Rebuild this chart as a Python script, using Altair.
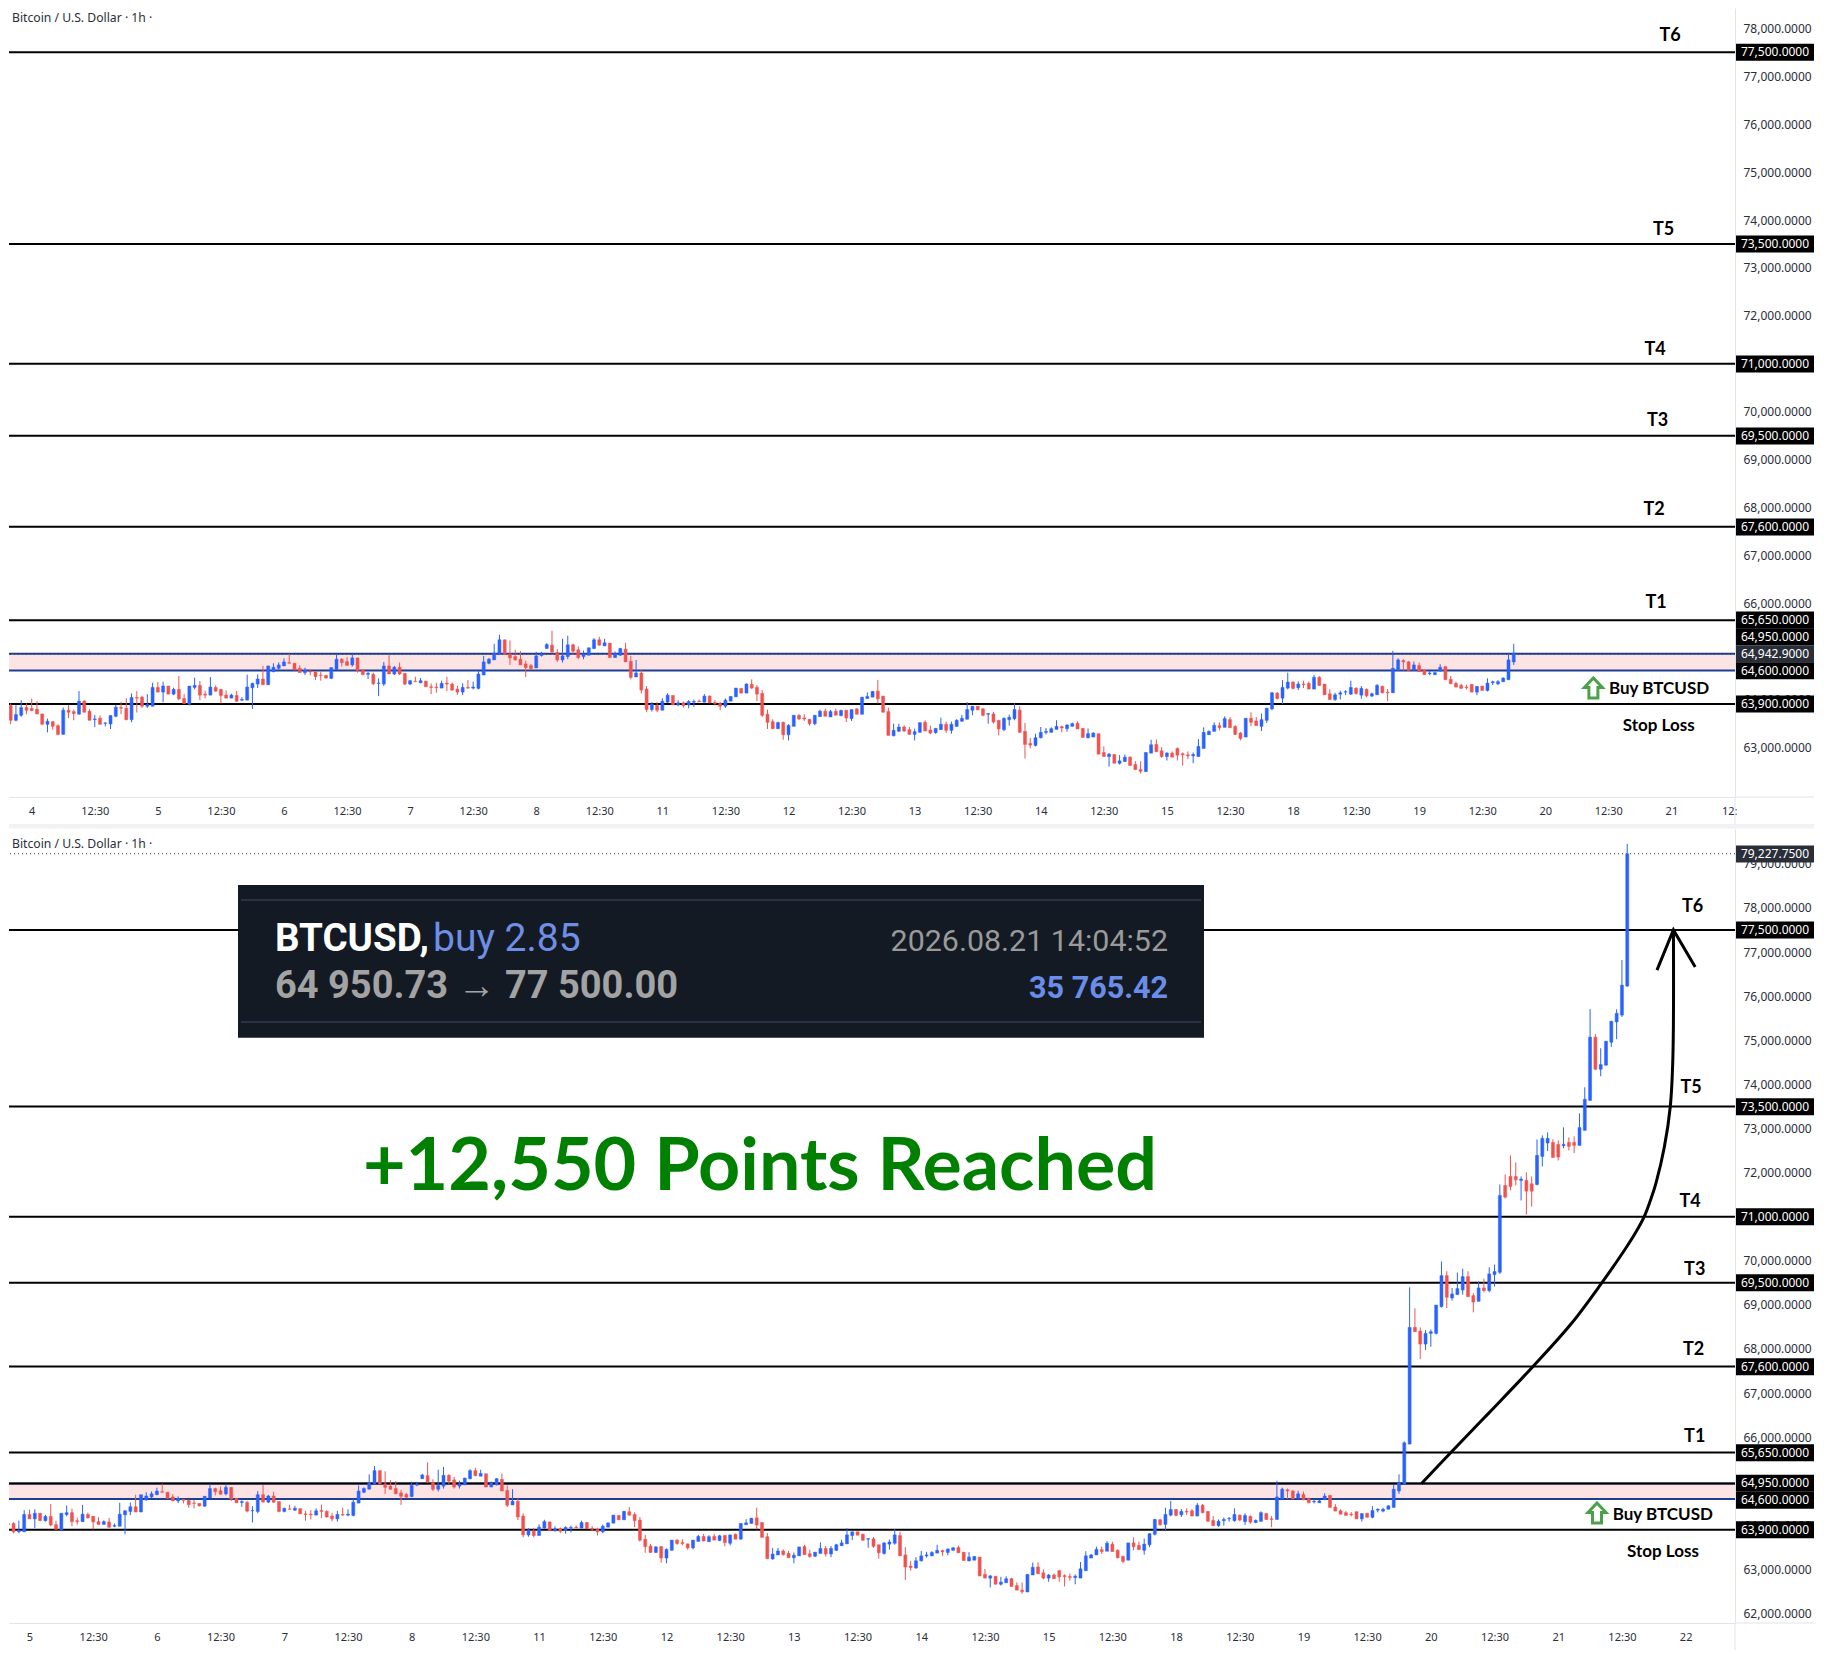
import altair as alt
import pandas as pd

# ---------- candle values (USD) ----------
DIRECTION = "".join([
    "BRBBRRRRBR", "RBRRBRRBRB", "BBRRBRRBBR", "BRBRRBBRRB", "RRRBRBBBBR",
    "BBBBRRRBRR", "RRBBRRBRRB", "RBBRBRRBRB", "RRRBRRRBRB", "BBBBBRRRRR",
    "RBBBRRBBRR", "BBBRBRBBRR", "BRRBRBBRBR", "BBRBRRRBBB", "RBRRRRRBRB",
    "BRRRBBRBRB", "RBRBBBRRRB", "BRRBBRRBBR", "BBBBBRRBRR", "BBBRRRBBBB",
    "BRBBRRBBRR", "BRBBRRRBBR", "RBRRRRBBBB", "BRBRRRBRRB", "BBRBBRBRRB",
    "RRRBBBBRBR", "BBRRBBRRBR", "RBBBRRRRRR", "BRBBBBBBBB", "RRBBBBRBBB",
    "RRBRBBBRRR", "BRRBBBRRBR", "RBBBRBBBBB", "B",
])

HIGH = [
    63854,63910,63875,63980,63910,64015,63959,63693,63595,63532,
    63476,63826,63875,63784,64169,63980,63791,63672,63658,63518,
    63665,63882,63945,64022,64120,64169,64071,64106,64344,64358,
    64365,64274,64239,64484,64106,64274,64449,64379,64176,64463,
    64288,64204,64183,64113,64169,64043,64512,64344,64519,64694,
    64694,64750,64771,64855,64946,64750,64708,64659,64596,64582,
    64575,64498,64659,64939,64855,64883,64939,64862,64610,64568,
    64554,64435,64778,64918,64694,64764,64540,64400,64470,64442,
    64379,64330,64344,64386,64470,64344,64281,64330,64400,64365,
    64596,64904,64862,65156,65345,65240,65226,65030,65002,64806,
    64736,64988,64988,65170,65429,65044,65261,65324,65156,65100,
    65016,65079,65275,65303,65261,65170,64995,65072,65177,64904,
    64820,64610,64274,63938,63938,64022,64127,64078,63980,63952,
    63980,63994,63994,64106,64078,63980,63945,64015,64057,64232,
    64225,64330,64414,64295,64190,63784,63581,63532,63532,63476,
    63665,63686,63686,63581,63665,63784,63805,63777,63805,63784,
    63770,63784,63812,64043,64141,64169,64400,64064,63826,63490,
    63490,63455,63420,63385,63511,63560,63448,63392,63616,63532,
    63532,63581,63672,63938,63854,63854,63812,63700,63735,63560,
    63616,63679,63917,63854,63504,63196,63280,63420,63399,63413,
    63560,63448,63476,63511,63539,63392,63392,63308,63280,63014,
    62874,62846,62832,62846,62811,62706,62706,62888,63154,63161,
    63000,62895,62909,62993,62888,62909,62888,63168,63413,63350,
    63518,63518,63644,63630,63455,63315,63602,63728,63630,63700,
    63819,64148,64148,64400,64554,64372,64372,64386,64365,64505,
    64484,64316,64211,64134,64176,64190,64386,64246,64274,64225,
    64134,64316,64281,64211,65009,64855,64834,64799,64785,64764,
    64610,64596,64575,64729,64680,64484,64365,64323,64302,64309,
    64274,64274,64435,64386,64400,64456,64925,65156,
    65903,69396,68920,68489,68428,68443,68995,69982,69761,69383,69731,69822,
    69761,69262,69534,69595,69852,69913,71730,71957,72389,72230,
    71912,72003,71912,72752,72843,72911,72752,72730,73025,72798,
    72821,73343,73934,75706,75138,74819,74978,75443,75700,76820,79453,
]
BODY_TOP = [
    63854,63868,63679,63826,63826,63805,63791,63693,63539,63532,
    63448,63770,63770,63742,63959,63959,63749,63588,63602,63504,
    63658,63833,63826,63812,64036,64036,64043,63889,64246,64246,
    64274,64274,64204,64204,64015,64274,64288,64288,64106,64253,
    64246,64204,64085,64085,64078,63994,64253,64330,64421,64421,
    64694,64666,64715,64778,64764,64750,64645,64610,64589,64568,
    64505,64498,64659,64834,64834,64785,64862,64862,64610,64540,
    64519,64337,64694,64694,64666,64666,64540,64386,64372,64386,
    64379,64260,64253,64330,64337,64316,64211,64246,64246,64253,
    64526,64778,64834,64960,65240,65240,64939,64890,64834,64736,
    64701,64904,64939,65142,65128,64974,64904,65135,65135,65030,
    64939,65072,65240,65240,65177,65170,64960,65058,65044,64792,
    64547,64547,64211,63896,63868,63959,64085,64078,63924,63924,
    63952,63952,63959,64064,64064,63931,63910,63980,64057,64232,
    64225,64316,64309,64246,64120,63686,63532,63511,63518,63455,
    63665,63665,63609,63581,63665,63749,63749,63742,63749,63763,
    63770,63784,63798,64043,64057,64162,64169,64064,63742,63350,
    63420,63420,63364,63322,63511,63518,63357,63392,63476,63476,
    63476,63560,63602,63784,63854,63854,63798,63700,63693,63560,
    63602,63623,63784,63770,63329,63077,63196,63308,63329,63385,
    63434,63427,63462,63490,63497,63392,63280,63294,63280,62888,
    62853,62846,62713,62790,62790,62636,62531,62888,63049,63056,
    62923,62874,62874,62972,62860,62839,62846,63014,63308,63329,
    63455,63448,63595,63574,63434,63294,63602,63602,63546,63574,
    63812,64134,64127,64246,64358,64358,64316,64316,64330,64456,
    64456,64316,64113,64092,64134,64155,64246,64232,64225,64204,
    64113,64288,64267,64148,64645,64820,64806,64778,64715,64701,
    64610,64547,64554,64666,64680,64414,64330,64288,64253,64309,
    64267,64274,64337,64365,64365,64442,64820,64960,
    65873,68489,68489,68406,68353,68390,68995,69663,69663,69247,69368,69640,
    69640,69209,69383,69383,69701,69754,71480,71708,71912,71912,
    71851,71821,71745,72389,72775,72775,72684,72639,72639,72684,
    72684,73020,73661,75070,75070,74448,74978,75428,75610,76250,79227.75,
]
BODY_BOTTOM = [
    63224,63560,63560,63665,63770,63763,63693,63476,63476,63434,
    63266,63266,63728,63700,63686,63728,63560,63574,63476,63497,
    63483,63644,63812,63574,63574,64022,63854,63854,63854,64148,
    64148,64106,64106,64008,63910,63896,64246,64085,64085,64085,
    64169,64078,64022,64022,63959,63980,63980,64239,64316,64302,
    64302,64575,64645,64694,64750,64610,64554,64554,64568,64470,
    64498,64442,64435,64624,64764,64708,64715,64596,64512,64519,
    64323,64330,64316,64526,64526,64526,64316,64316,64365,64344,
    64260,64246,64239,64232,64316,64190,64148,64148,64232,64232,
    64225,64505,64750,64820,64939,64939,64862,64820,64715,64659,
    64638,64652,64911,65058,64988,64820,64820,64890,65002,64869,
    64890,64918,65058,65128,65114,64869,64869,64918,64778,64456,
    64463,64190,63784,63784,63770,63770,63938,63882,63882,63868,
    63882,63938,63945,63938,63924,63910,63854,63854,63959,64050,
    64127,64127,64232,64106,63665,63518,63385,63385,63259,63259,
    63434,63588,63588,63490,63490,63637,63644,63630,63665,63658,
    63609,63595,63686,63686,64015,64043,64008,63728,63245,63238,
    63329,63336,63266,63266,63308,63336,63294,63301,63364,63350,
    63350,63434,63539,63581,63770,63777,63665,63686,63525,63378,
    63364,63574,63595,63308,63056,63042,63035,63196,63308,63308,
    63371,63399,63385,63434,63378,63203,63196,63210,62853,62804,
    62804,62664,62664,62699,62615,62531,62496,62489,62874,62902,
    62804,62804,62790,62832,62839,62818,62818,62804,62972,63259,
    63329,63406,63413,63406,63266,63182,63210,63518,63448,63434,
    63560,63798,64015,64022,64232,64225,64239,64302,64211,64211,
    64288,64092,63994,63994,64106,64148,64106,64120,64085,64071,
    64064,64092,64134,64134,64134,64596,64778,64596,64610,64575,
    64512,64533,64512,64589,64407,64323,64253,64225,64239,64148,
    64148,64183,64183,64344,64323,64365,64407,64778,
    64936,65843,68390,68111,68111,68353,68353,68959,69171,69156,69232,69338,
    69186,69065,69080,69322,69322,69686,69739,71443,71685,71836,
    71821,71578,71578,71730,72366,72669,72343,72351,72608,72593,
    72616,72616,72957,73638,74343,74343,74433,74955,75415,75570,76228,
]
LOW = [
    63035,63476,63539,63630,63686,63749,63686,63476,63308,63364,
    63245,63266,63602,63560,63686,63728,63560,63420,63476,63434,
    63378,63623,63686,63560,63518,63721,63819,63819,63854,64148,
    63938,64106,64085,63980,63910,63868,64204,63980,64015,64085,
    64155,63910,64022,64022,63945,63959,63980,63798,64232,64302,
    64302,64561,64610,64694,64750,64610,64554,64505,64498,64400,
    64386,64428,64421,64624,64680,64694,64680,64554,64512,64421,
    64295,64064,64274,64526,64505,64505,64295,64295,64365,64330,
    64260,64106,64134,64232,64169,64176,64092,64085,64218,64204,
    64204,64505,64729,64820,64939,64932,64715,64806,64715,64463,
    64610,64652,64890,65058,64960,64778,64764,64834,64932,64834,
    64834,64918,65044,65114,65114,64869,64869,64904,64778,64414,
    64463,64120,63728,63742,63728,63770,63924,63882,63854,63826,
    63812,63840,63945,63938,63924,63868,63770,63819,63959,64050,
    64127,64127,64218,63959,63630,63378,63378,63378,63154,63140,
    63434,63560,63546,63448,63455,63637,63644,63630,63665,63644,
    63525,63546,63686,63686,64015,64043,63910,63728,63245,63224,
    63329,63315,63266,63140,63308,63336,63266,63280,63364,63294,
    63280,63420,63539,63581,63665,63777,63644,63490,63490,63245,
    63336,63448,63560,63308,62762,62972,63014,63182,63266,63308,
    63371,63308,63322,63434,63378,63203,63182,63210,62853,62804,
    62594,62664,62636,62699,62615,62531,62447,62489,62874,62902,
    62776,62720,62790,62720,62615,62748,62664,62804,62972,63259,
    63329,63350,63413,63406,63252,63140,63210,63434,63448,63336,
    63504,63770,63994,63896,64204,64204,64190,64232,64211,64211,
    64274,64092,63994,63966,63994,64085,64085,64092,64008,64036,
    64050,64092,64120,63959,64134,64596,64596,64596,64589,64575,
    64512,64498,64512,64568,64407,64323,64253,64225,64204,64148,
    64085,64183,64162,64295,64295,64365,64407,64715,
    64936,65843,68390,67771,67975,68050,68330,68940,68929,69095,69232,69232,
    69186,68830,69080,69285,69285,69413,69700,71412,71594,71708,
    71367,71048,71230,71708,72139,72487,72343,72275,72548,72502,
    72442,72616,72957,73623,74320,74183,74433,74850,75025,75530,76213,
]

# ---------- levels, ticks, labels ----------
LEVELS = [63900, 65650, 67600, 69500, 71000, 73500, 77500]
ZONE_LOW, ZONE_HIGH = 64600, 64950
TITLE = "Bitcoin / U.S. Dollar \u00b7 1h \u00b7"

P1_TICKS = list(range(63000, 79000, 1000))
P2_TICKS = list(range(62000, 80000, 1000))
P1_DAYS = ["4", "5", "6", "7", "8", "11", "12", "13", "14", "15", "18", "19", "20", "21"]
P2_DAYS = ["5", "6", "7", "8", "11", "12", "13", "14", "15", "18", "19", "20", "21", "22"]

ARROW_X = [291.2, 296.5, 304.0, 312.2, 319.4, 325.1, 329.5, 331.5, 333.2, 334.5, 335.4, 337.0, 338.1, 338.6, 338.7]
ARROW_P = [64945, 65620, 66557, 67596, 68565, 69481, 70244, 70622, 71000, 71416, 71756, 72586, 73486, 74622, 77500]
HEAD_X = [335.6, 338.7, 342.8]
HEAD_P = [76591, 77500, 76659]

# ---------- layout ----------
BLUE, RED = "#2962ff", "#ef5350"
ZONE_FILL, ZONE_LINE = "#fde4e4", "#1c3f94"
BOX_BLACK, BOX_GREY = "#000000", "#2a2e39"
UI_FONT, LABEL_FONT, BOX_FONT = "Noto Sans", "Lato", "Roboto"
EDGE = "#e0e3eb"
PX_LEFT, PX_RIGHT, PX_WHITE_END = 8, 1734, 1813
W = PX_RIGHT - PX_LEFT

df = pd.DataFrame({
    "i": range(len(HIGH)), "high": HIGH, "top": BODY_TOP, "bottom": BODY_BOTTOM, "low": LOW,
    "dir": ["up" if c == "B" else "down" for c in DIRECTION],
})


class Panel:
    def __init__(self, top, bottom, p_top, p_bottom, i_left, i_right):
        self.top, self.bottom = top, bottom
        self.h = bottom - top
        self.p_top, self.p_bottom = p_top, p_bottom
        self.i_left, self.i_right = i_left, i_right

    def ix(self, px):
        return self.i_left + (px - PX_LEFT) / W * (self.i_right - self.i_left)

    def pr(self, py):
        return self.p_top - (py - self.top) / self.h * (self.p_top - self.p_bottom)


def text_layer(p, xs, ys, rows, **mark):
    t = pd.DataFrame([{"t": r[0], "x": p.ix(r[1]), "y": p.pr(r[2])} for r in rows])
    return alt.Chart(t).mark_text(clip=False, **mark).encode(x=xs("x"), y=ys("y"), text="t:N")


def panel(p, candles, ticks, day_labels, first_idx, labels, boxes, dotted, extras, label_band, clipped_tick):
    seq = []
    for d in day_labels:
        seq += [d, "12:30"]
    seq = seq[:-1]
    vals = [first_idx + 12 * k for k in range(len(seq))]
    if clipped_tick:
        seq.append("12:")
        vals.append(clipped_tick)
    lab = "[" + ",".join(f"'{s}'" for s in seq) + "]"
    xaxis = alt.Axis(values=vals, labelExpr=f"{lab}[round((datum.value-{first_idx})/12)]",
                     grid=False, ticks=False, domainColor=EDGE, labelFont=UI_FONT,
                     labelFontSize=11, labelColor="#2a2e39", labelPadding=8, title=None,
                     labelOverlap=False, labelFlush=False)
    yaxis = alt.Axis(values=ticks, format=",.4f", orient="right", grid=False, ticks=False,
                     domainColor=EDGE, labelFont=UI_FONT, labelFontSize=12,
                     labelColor="#2a2e39", labelPadding=8, title=None, labelOverlap=False)
    xscale = alt.Scale(domain=[p.i_left, p.i_right], nice=False, zero=False, padding=0)
    yscale = alt.Scale(domain=[p.p_bottom, p.p_top], nice=False, zero=False)

    def xs(f):
        return alt.X(f"{f}:Q", scale=xscale, axis=xaxis, title=None)

    def ys(f):
        return alt.Y(f"{f}:Q", scale=yscale, axis=yaxis, title=None)

    colour = alt.Color("dir:N", scale=alt.Scale(domain=["up", "down"], range=[BLUE, RED]), legend=None)
    stroke = alt.Stroke("dir:N", scale=alt.Scale(domain=["up", "down"], range=[BLUE, RED]), legend=None)

    zone = pd.DataFrame({"a": [ZONE_LOW], "b": [ZONE_HIGH]})
    edges_v = pd.DataFrame({"x": [p.i_right], "y0": [p.p_bottom], "y1": [p.pr(p.bottom + label_band)]})
    edges_h = pd.DataFrame({"x0": [p.i_right], "x1": [p.ix(PX_WHITE_END)], "y": [p.p_bottom]})
    layers = [
        alt.Chart(zone).mark_rect(color=ZONE_FILL).encode(y=ys("a"), y2="b:Q"),
        alt.Chart(pd.DataFrame({"p": [ZONE_LOW, ZONE_HIGH]})).mark_rule(color=ZONE_LINE, strokeWidth=2).encode(y=ys("p")),
        alt.Chart(pd.DataFrame({"p": LEVELS + extras})).mark_rule(color="#000000", strokeWidth=2).encode(y=ys("p")),
        alt.Chart(pd.DataFrame({"p": [dotted]})).mark_rule(color="#333333", strokeWidth=1, strokeDash=[1, 3]).encode(y=ys("p")),
        alt.Chart(edges_v).mark_rule(color=EDGE, strokeWidth=1, clip=False).encode(x=xs("x"), y=ys("y0"), y2="y1:Q"),
        alt.Chart(edges_h).mark_rule(color=EDGE, strokeWidth=1, clip=False).encode(x=xs("x0"), x2="x1:Q", y=ys("y")),
        alt.Chart(candles).mark_rule(strokeWidth=1, clip=True).encode(x=xs("i"), y=ys("high"), y2="low:Q", color=colour),
        alt.Chart(candles).mark_bar(size=3, strokeWidth=0.5, clip=True).encode(
            x=xs("i"), y=ys("top"), y2="bottom:Q", color=colour, stroke=stroke),
        text_layer(p, xs, ys, [(TITLE, 11, labels["title_y"])], align="left", baseline="middle",
                   font=UI_FONT, fontSize=12.2, color="#2a2e39"),
        text_layer(p, xs, ys, labels["t"], align="center", baseline="middle", font=LABEL_FONT,
                   fontWeight="bold", fontSize=18, color="#000000"),
        text_layer(p, xs, ys, labels["side"], align="left", baseline="middle", font=LABEL_FONT,
                   fontWeight="bold", fontSize=17, color="#000000"),
    ]
    ax, ay = labels["buy_arrow"]
    shape = "M0,-1 L0.9,-0.05 L0.45,-0.05 L0.45,1 L-0.45,1 L-0.45,-0.05 L-0.9,-0.05 Z"
    layers.append(
        alt.Chart(pd.DataFrame({"x": [p.ix(ax)], "y": [p.pr(ay)]})).mark_point(
            shape=shape, size=400, stroke="#007a00", strokeWidth=3, filled=False, clip=False
        ).encode(x=xs("x"), y=ys("y"))
    )
    rows = []
    for txt, py, col in boxes:
        rows.append({"t": txt, "c": col, "x0": p.ix(PX_RIGHT + 1), "x1": p.ix(PX_WHITE_END),
                     "xm": p.ix(PX_RIGHT + 40), "y0": p.pr(py - 8.5), "y1": p.pr(py + 8.5), "ym": p.pr(py)})
    box = pd.DataFrame(rows)
    layers.append(alt.Chart(box).mark_rect(clip=False).encode(
        x=xs("x0"), x2="x1:Q", y=ys("y0"), y2="y1:Q",
        fill=alt.Fill("c:N", scale=None)))
    layers.append(alt.Chart(box).mark_text(clip=False, font=UI_FONT, fontSize=12, color="#ffffff", baseline="middle").encode(
        x=xs("xm"), y=ys("ym"), text="t:N"))
    return layers, xs, ys


# ---------- panel 1 ----------
p1 = Panel(8, 797, 78425, 61959, 0.68, 329.1)
p1_labels = {
    "t": [("T6", 1669, 36), ("T5", 1662.5, 230), ("T4", 1654, 350), ("T3", 1656.5, 421),
          ("T2", 1653, 510), ("T1", 1655, 603)],
    "side": [("Buy BTCUSD", 1607.9, 689), ("Stop Loss", 1621.8, 726)],
    "buy_arrow": (1592.4, 688),
    "title_y": 18,
}
p1_boxes = [
    ("77,500.0000", 52.3, BOX_BLACK), ("73,500.0000", 244, BOX_BLACK), ("71,000.0000", 364, BOX_BLACK),
    ("69,500.0000", 436, BOX_BLACK), ("67,600.0000", 527, BOX_BLACK), ("65,650.0000", 620, BOX_BLACK),
    ("64,950.0000", 636.7, BOX_BLACK), ("64,942.9000", 653.7, BOX_GREY), ("64,600.0000", 670.7, BOX_BLACK),
    ("63,900.0000", 704, BOX_BLACK),
]
l1, xs1, ys1 = panel(p1, df.iloc[:288], P1_TICKS, P1_DAYS, 5, p1_labels, p1_boxes, 64942.9, [], 27, 328)
chart1 = alt.layer(*l1).properties(width=W, height=p1.h)

# ---------- panel 2 ----------
p2 = Panel(829, 1623, 79790, 61786, 25.14, 350.3)
p2_labels = {
    "t": [("T6", 1691.5, 906.5), ("T5", 1690, 1088), ("T4", 1689, 1202), ("T3", 1693.7, 1269.5),
          ("T2", 1692.6, 1349.5), ("T1", 1693.7, 1437)],
    "side": [("Buy BTCUSD", 1611.7, 1514.5), ("Stop Loss", 1626, 1552)],
    "buy_arrow": (1596, 1513),
    "title_y": 844,
}
p2_boxes = [
    ("79,227.7500", 854, BOX_GREY), ("77,500.0000", 930, BOX_BLACK), ("73,500.0000", 1106.7, BOX_BLACK),
    ("71,000.0000", 1216.7, BOX_BLACK), ("69,500.0000", 1282.7, BOX_BLACK), ("67,600.0000", 1366.7, BOX_BLACK),
    ("65,650.0000", 1452.7, BOX_BLACK), ("64,950.0000", 1483.3, BOX_BLACK), ("64,600.0000", 1500.3, BOX_BLACK),
    ("63,900.0000", 1529.7, BOX_BLACK),
]
l2, xs2, ys2 = panel(p2, df.iloc[25:], P2_TICKS, P2_DAYS, 29, p2_labels, p2_boxes, 79227.75, [ZONE_HIGH], 27, None)

arrow = pd.DataFrame({"x": ARROW_X, "y": ARROW_P, "n": range(len(ARROW_X))})
head = pd.DataFrame({"x": HEAD_X, "y": HEAD_P, "n": range(len(HEAD_X))})
l2.insert(8, alt.Chart(arrow).mark_line(color="#000000", strokeWidth=3, interpolate="catmull-rom", clip=False).encode(
    x=xs2("x"), y=ys2("y"), order="n:Q"))
l2.insert(9, alt.Chart(head).mark_line(color="#000000", strokeWidth=3, clip=False).encode(
    x=xs2("x"), y=ys2("y"), order="n:Q"))

dark = pd.DataFrame({"x0": [p2.ix(237)], "x1": [p2.ix(1203)], "y0": [p2.pr(885)], "y1": [p2.pr(1037.7)]})
rule_rows = pd.DataFrame({"x0": [p2.ix(240)] * 2, "x1": [p2.ix(1200)] * 2, "y": [p2.pr(900), p2.pr(1022)]})
gap = pd.DataFrame({"x0": [p2.ix(PX_LEFT)], "x1": [p2.ix(PX_WHITE_END)], "y0": [p2.pr(824)], "y1": [p2.pr(828.5)]})
l2 += [
    alt.Chart(gap).mark_rect(color="#f1f2f4", clip=False).encode(x=xs2("x0"), x2="x1:Q", y=ys2("y0"), y2="y1:Q"),
    alt.Chart(dark).mark_rect(color="#131a23", clip=False).encode(x=xs2("x0"), x2="x1:Q", y=ys2("y0"), y2="y1:Q"),
    alt.Chart(rule_rows).mark_rule(color="#2b3342", strokeWidth=2, clip=False).encode(x=xs2("x0"), x2="x1:Q", y=ys2("y")),
    text_layer(p2, xs2, ys2, [("BTCUSD,", 274, 951)], align="left", baseline="alphabetic", font=BOX_FONT,
               fontWeight="bold", fontSize=38.5, color="#ffffff"),
    text_layer(p2, xs2, ys2, [("buy 2.85", 432, 951)], align="left", baseline="alphabetic", font=BOX_FONT,
               fontSize=39, color="#6f8fe6"),
    text_layer(p2, xs2, ys2, [("2026.08.21 14:04:52", 1167, 951)], align="right", baseline="alphabetic", font=BOX_FONT,
               fontSize=30.4, color="#9a9a9a"),
    text_layer(p2, xs2, ys2, [("64 950.73 \u2192 77 500.00", 274, 998)], align="left", baseline="alphabetic", font=BOX_FONT,
               fontWeight="bold", fontSize=38, color="#a3a3a3"),
    text_layer(p2, xs2, ys2, [("35 765.42", 1167, 998)], align="right", baseline="alphabetic", font=BOX_FONT,
               fontWeight="bold", fontSize=30.5, color="#6a8ee8"),
    text_layer(p2, xs2, ys2, [("+12,550 Points Reached", 759, 1190)], align="center", baseline="alphabetic",
               font=LABEL_FONT, fontWeight="bold", fontSize=73.6, color="#008000"),
]
chart2 = alt.layer(*l2).properties(width=W, height=p2.h)

chart = (
    alt.vconcat(chart1, chart2, spacing=p2.top - p1.bottom, bounds="flush")
    .properties(padding=0, background="#ffffff")
    .configure_view(stroke=None)
)
chart.save("out.html", embed_options={"renderer": "svg", "actions": False})
